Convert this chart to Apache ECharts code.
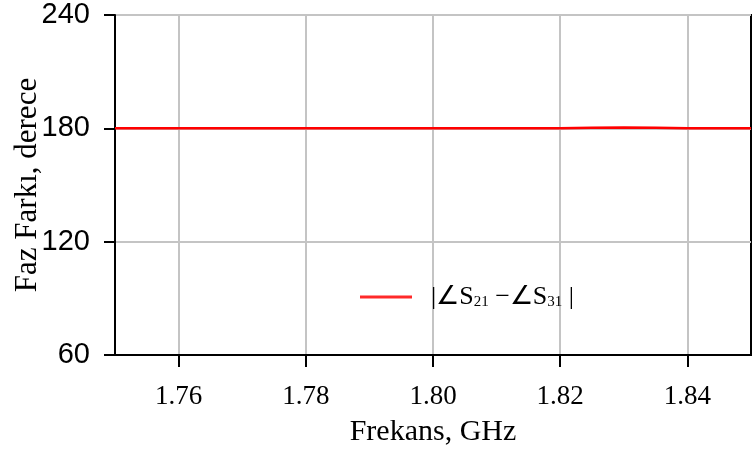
<!DOCTYPE html>
<html>
<head>
<meta charset="utf-8">
<script src="https://cdn.jsdelivr.net/npm/echarts@6/dist/echarts.min.js"></script>
<style>
  html, body { margin: 0; padding: 0; background: #fff; }
  #main { width: 755px; height: 457px; }
</style>
</head>
<body>
<div id="main"></div>
<script>
var myChart = echarts.init(document.getElementById('main'));

// frekans (GHz) ve faz farki (derece)
var freq = [1.75, 1.755, 1.76, 1.765, 1.77, 1.775, 1.78, 1.785, 1.79, 1.795, 1.80,
            1.805, 1.81, 1.815, 1.82, 1.825, 1.83, 1.835, 1.84, 1.845, 1.85];
var phaseDiff = [180.0, 180.0, 180.0, 180.0, 180.0, 180.0, 180.0, 180.0, 180.0, 180.0, 180.0,
                 180.0, 180.0, 180.0, 180.1, 180.3, 180.4, 180.3, 180.1, 180.1, 180.0];
var xTicks = [1.76, 1.78, 1.80, 1.82, 1.84];

var seriesData = [];
for (var i = 0; i < freq.length; i++) {
    seriesData.push([freq[i], phaseDiff[i]]);
}

var option = {
    backgroundColor: '#fff',
    animation: false,
    grid: {
        left: 115,
        right: 4,
        top: 15,
        bottom: 102,
        outerBoundsMode: 'none',
        containLabel: false,
        show: true,
        borderColor: '#000',
        borderWidth: 2
    },
    legend: {
        left: 355,
        top: 279,
        icon: 'rect',
        itemWidth: 52,
        itemHeight: 3,
        textStyle: {
            fontFamily: 'Liberation Serif',
            fontSize: 26,
            color: '#000',
            padding: [0, 0, 0, 14],
            rich: {
                s: { fontFamily: 'Liberation Serif', fontSize: 15, color: '#000', verticalAlign: 'bottom', padding: [11, 0, 0, 0] }
            }
        },
        formatter: function () {
            return '|\u2220S{s|21} \u2212\u2220S{s|31} |';
        }
    },
    xAxis: {
        type: 'value',
        min: 1.75,
        max: 1.85,
        name: 'Frekans, GHz',
        nameLocation: 'middle',
        nameGap: 62,
        nameMoveOverlap: false,
        nameTextStyle: { fontFamily: 'Liberation Serif', fontSize: 30, color: '#000' },
        axisLine: { lineStyle: { color: '#000', width: 2 } },
        axisTick: { show: true, inside: false, length: 12, customValues: xTicks, lineStyle: { color: '#000', width: 2 } },
        axisLabel: {
            customValues: xTicks,
            margin: 28,
            fontFamily: 'Liberation Serif',
            fontSize: 27,
            color: '#000',
            formatter: function (v) { return v.toFixed(2); }
        },
        splitLine: { show: true, lineStyle: { color: '#c4c4c4', width: 2 } }
    },
    yAxis: {
        type: 'value',
        min: 60,
        max: 240,
        interval: 60,
        name: 'Faz Farkı, derece',
        nameLocation: 'middle',
        nameGap: 72,
        nameMoveOverlap: false,
        nameTextStyle: { fontFamily: 'Liberation Serif', fontSize: 31, color: '#000' },
        axisLine: { show: true, lineStyle: { color: '#000', width: 2 } },
        axisTick: { show: true, inside: false, length: 11, lineStyle: { color: '#000', width: 2 } },
        axisLabel: {
            margin: 25,
            fontFamily: 'Liberation Sans',
            fontSize: 29,
            color: '#000'
        },
        splitLine: { show: true, lineStyle: { color: '#c4c4c4', width: 2 } }
    },
    series: [
        {
            name: 'faz',
            type: 'line',
            data: seriesData,
            symbol: 'none',
            lineStyle: { color: '#ff0000', width: 2.5 },
            itemStyle: { color: '#ff2a2a' }
        }
    ]
};

myChart.setOption(option);
</script>
</body>
</html>
